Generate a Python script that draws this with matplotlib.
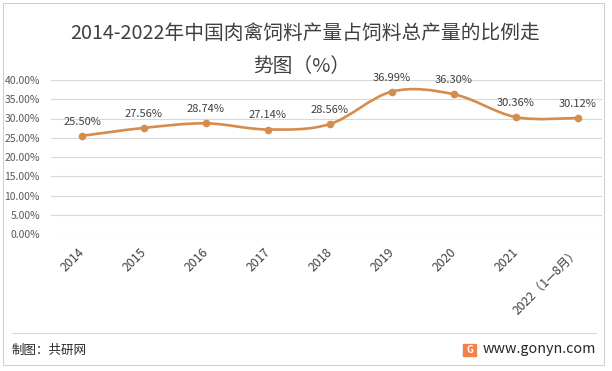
import matplotlib.pyplot as plt
from matplotlib.path import Path
from matplotlib.patches import PathPatch, Rectangle

plt.rcParams['font.family'] = ['Noto Sans CJK SC', 'DejaVu Sans']

# data
years = ['2014', '2015', '2016', '2017', '2018', '2019', '2020', '2021', '2022（1—8月）']
share = [25.50, 27.56, 28.74, 27.14, 28.56, 36.99, 36.30, 30.36, 30.12]
yticks = [0, 5, 10, 15, 20, 25, 30, 35, 40]

line_color = '#D58C4C'
text_color = '#404040'
tick_color = '#595959'

W, H = 612, 371
fig = plt.figure(figsize=(W / 100, H / 100), dpi=100)
ax = fig.add_axes([51 / W, 137 / H, (602 - 51) / W, (291 - 137) / H])

xs = list(range(len(years)))

# smoothed line (Excel-like): cubic bezier segments between the points
verts = [(xs[0], share[0])]
codes = [Path.MOVETO]
n = len(xs)
for i in range(n - 1):
    p0 = (xs[max(i - 1, 0)], share[max(i - 1, 0)])
    p1 = (xs[i], share[i])
    p2 = (xs[i + 1], share[i + 1])
    p3 = (xs[min(i + 2, n - 1)], share[min(i + 2, n - 1)])
    c1 = (p1[0] + (p2[0] - p0[0]) / 6, p1[1] + (p2[1] - p0[1]) / 6)
    c2 = (p2[0] - (p3[0] - p1[0]) / 6, p2[1] - (p3[1] - p1[1]) / 6)
    verts += [c1, c2, p2]
    codes += [Path.CURVE4] * 3
ax.add_patch(PathPatch(Path(verts, codes), facecolor='none', edgecolor=line_color,
                       lw=1.9, capstyle='round', zorder=3))
ax.plot(xs, share, 'o', color=line_color, ms=4.5, zorder=4)

for x, v in zip(xs, share):
    ax.annotate(f'{v:.2f}%', (x, v), textcoords='offset points', xytext=(0, 6.5),
                ha='center', va='bottom', fontsize=8, color=text_color)

ax.set_xlim(-0.5, 8.39)
ax.set_ylim(0, 40)
ax.set_yticks(yticks)
ax.set_yticklabels([f'{t:.2f}%' for t in yticks], fontsize=7.5, color=tick_color)
ax.set_xticks(xs)
ax.set_xticklabels(years, rotation=45, ha='right', va='center', rotation_mode='anchor',
                   fontsize=8.8, color=text_color)
ax.tick_params(axis='both', length=0)
ax.tick_params(axis='y', pad=8)
ax.tick_params(axis='x', pad=11.5)
ax.grid(axis='y', color='#D9D9D9', lw=0.8)
ax.set_axisbelow(True)
for s in ax.spines.values():
    s.set_visible(False)

# title
fig.text(305 / W, 1 - 33 / H, '2014-2022年中国肉禽饲料产量占饲料总产量的比例走',
         ha='center', va='center', fontsize=14.2, color=text_color)
fig.text(302 / W, 1 - 66 / H, '势图（%）', ha='center', va='center',
         fontsize=14.2, color=text_color)

# footer
fig.add_artist(plt.Line2D([12 / W, 596 / W], [1 - 333 / H, 1 - 333 / H],
                          color='#D9D9D9', lw=0.8))
fig.text(12 / W, 1 - 350 / H, '制图：共研网', ha='left', va='center',
         fontsize=9, color='#262626')
fig.add_artist(Rectangle((463 / W, 1 - 356 / H), 13 / W, 12 / H, color='#F0824A'))
fig.text(469.5 / W, 1 - 350 / H, 'G', ha='center', va='center', fontsize=7,
         color='white', weight='bold')
fig.text(483 / W, 1 - 349 / H, 'www.gonyn.com', ha='left', va='center',
         fontsize=10.3, color='#262626')

# outer border
fig.add_artist(Rectangle((3 / W, 1 - 365 / H), 601 / W, 362 / H, fill=False,
                         edgecolor='#D0D0D0', lw=0.8))

fig.savefig('out.png', dpi=100)
